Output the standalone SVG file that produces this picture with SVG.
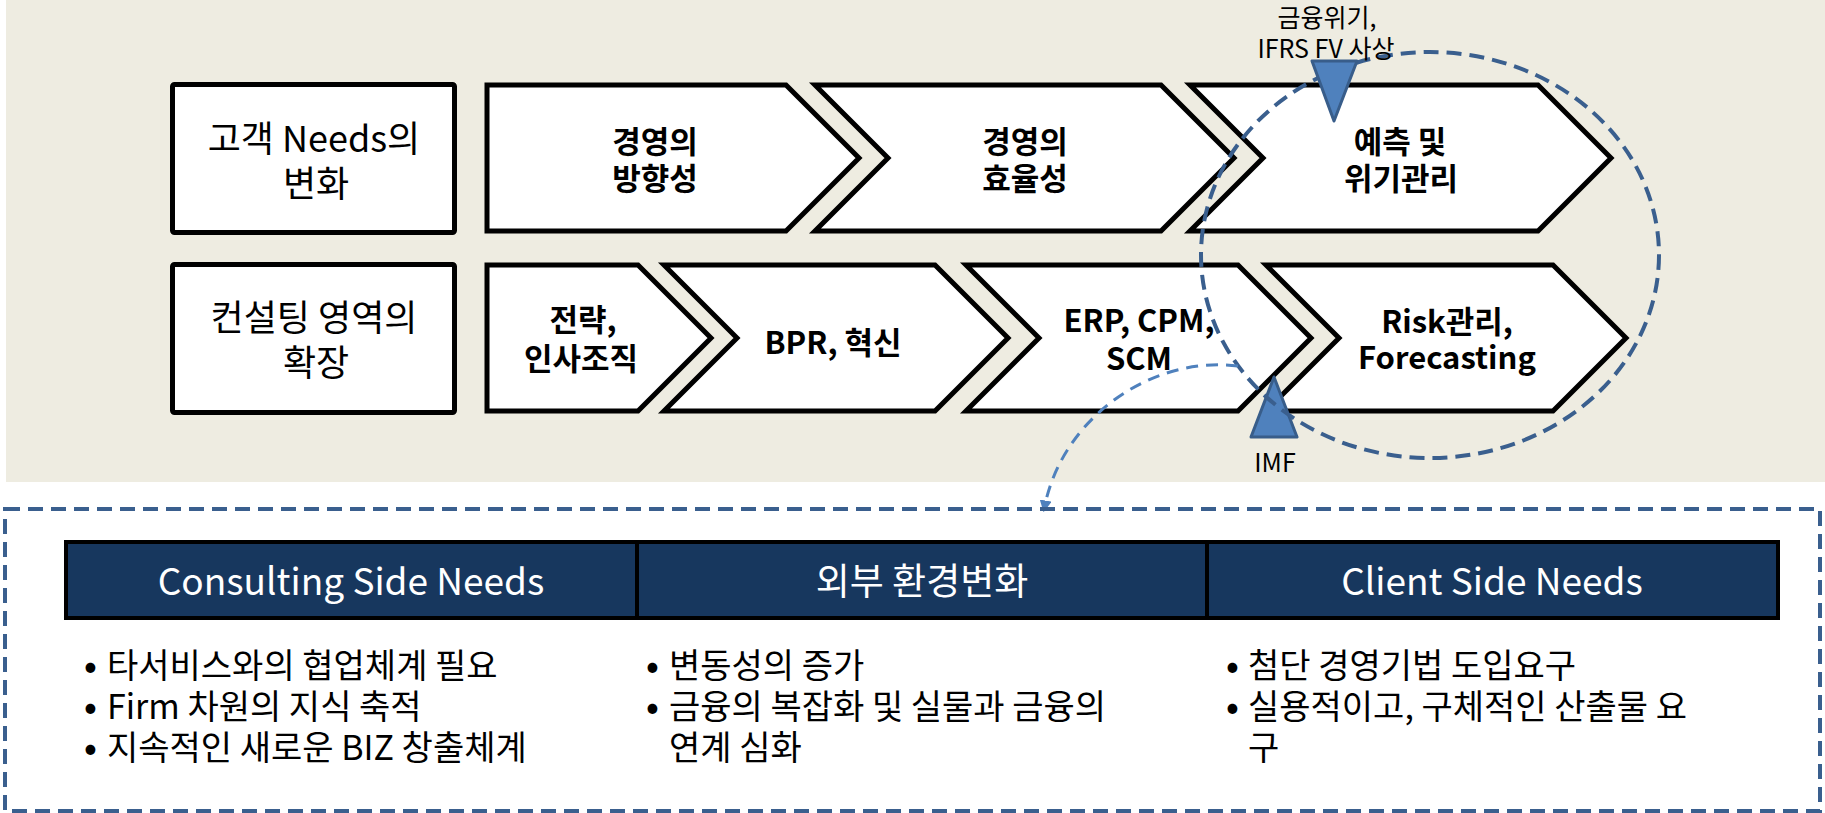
<svg xmlns="http://www.w3.org/2000/svg" width="1825" height="813" viewBox="0 0 1825 813">
  <defs>
    <style>
      .box { fill: #FFFFFF; stroke: #000000; stroke-width: 5; stroke-linejoin: miter; }
      .lbl { font-family: 'Noto Sans CJK KR', 'Noto Sans', sans-serif; fill: #000000; }
      .reg { font-size: 36px; font-weight: 400; text-anchor: middle; }
      .bold { font-size: 31px; font-weight: 700; text-anchor: middle; }
      .note { font-size: 25px; font-weight: 400; text-anchor: middle; }
      .hdr { font-family: 'Noto Sans CJK KR', 'Noto Sans', sans-serif; font-size: 37px; fill: #FFFFFF; text-anchor: middle; }
      .cell { fill: #17375E; stroke: #000000; stroke-width: 4; }
      .item { font-family: 'Noto Sans CJK KR', 'Noto Sans', sans-serif; font-size: 34px; fill: #000000; }
      .bul { font-size: 34px; font-weight: 700; }
      .tri { fill: #4F81BD; stroke: #385D8A; stroke-width: 3; stroke-linejoin: round; }
    </style>
    <marker id="arrowLight" viewBox="0 0 10 10" refX="8" refY="5" markerWidth="4" markerHeight="4" orient="auto" markerUnits="strokeWidth">
      <path d="M0,0 L10,5 L0,10 z" fill="#4F81BD"/>
    </marker>
  </defs>

  <rect x="0" y="0" width="1825" height="813" fill="#FFFFFF"/>
  <rect id="upper-panel" x="6" y="0" width="1819" height="482" fill="#EEECE1"/>

  <!-- row labels -->
  <g id="row1-label">
    <rect class="box" x="172.5" y="84.5" width="282" height="148" rx="2"/>
    <text class="lbl reg"><tspan x="314" y="152">고객 Needs의</tspan><tspan x="316" y="197">변화</tspan></text>
  </g>
  <g id="row2-label">
    <rect class="box" x="172.5" y="264.5" width="282" height="148" rx="2"/>
    <text class="lbl reg"><tspan x="314" y="331">컨설팅 영역의</tspan><tspan x="316" y="376">확장</tspan></text>
  </g>

  <!-- top row chevrons -->
  <g id="chev-direction">
    <polygon class="box" points="487,85 786,85 859,158 786,231 487,231"/>
    <text class="lbl bold"><tspan x="655" y="153">경영의</tspan><tspan x="655" y="190">방향성</tspan></text>
  </g>
  <g id="chev-efficiency">
    <polygon class="box" points="815,85 1161,85 1234,158 1161,231 815,231 888,158"/>
    <text class="lbl bold"><tspan x="1025" y="153">경영의</tspan><tspan x="1025" y="190">효율성</tspan></text>
  </g>
  <g id="chev-forecast">
    <polygon class="box" points="1190,85 1538,85 1611,158 1538,231 1190,231 1263,158"/>
    <text class="lbl bold"><tspan x="1400" y="153">예측 및</tspan><tspan x="1401" y="190">위기관리</tspan></text>
  </g>

  <!-- bottom row chevrons -->
  <g id="chev-strategy">
    <polygon class="box" points="487,265 638,265 711,338 638,411 487,411"/>
    <text class="lbl bold"><tspan x="583" y="331">전략,</tspan><tspan x="581" y="370">인사조직</tspan></text>
  </g>
  <g id="chev-bpr">
    <polygon class="box" points="664,265 935,265 1008,338 935,411 664,411 737,338"/>
    <text class="lbl bold" x="833" y="354">BPR, 혁신</text>
  </g>
  <g id="chev-erp">
    <polygon class="box" points="966,265 1238,265 1311,338 1238,411 966,411 1039,338"/>
    <text class="lbl bold"><tspan x="1139" y="332">ERP, CPM,</tspan><tspan x="1139" y="370">SCM</tspan></text>
  </g>
  <g id="chev-risk">
    <polygon class="box" points="1266,265 1553,265 1626,338 1553,411 1266,411 1339,338"/>
    <text class="lbl bold"><tspan x="1447" y="333">Risk관리,</tspan><tspan x="1447" y="369">Forecasting</tspan></text>
  </g>

  <!-- event marker: IMF -->
  <g id="event-imf">
    <polygon class="tri" points="1274,377 1297,437 1251,437"/>
    <text class="lbl note" x="1275" y="472">IMF</text>
  </g>

  <!-- connectors -->
  <g id="connectors">
    <ellipse cx="1430" cy="255" rx="229" ry="203" fill="none" stroke="#3A5F8E" stroke-width="4" stroke-dasharray="15 8"/>
    <path d="M1238,366 C1150,355 1060,420 1044,510" fill="none" stroke="#4F81BD" stroke-width="3" stroke-dasharray="12 8" marker-end="url(#arrowLight)"/>
  </g>

  <!-- event marker: financial crisis -->
  <g id="event-crisis">
    <polygon class="tri" points="1312,61 1357,61 1334,121"/>
    <text class="lbl note"><tspan x="1327" y="27">금융위기,</tspan><tspan x="1326" y="58">IFRS FV 사상</tspan></text>
  </g>

  <!-- lower panel -->
  <g id="lower-panel">
    <rect x="5" y="509" width="1815" height="302" fill="none" stroke="#3A5F8E" stroke-width="4" stroke-dasharray="15 8"/>
  </g>

  <g id="col-consulting">
    <rect class="cell" x="66" y="542" width="571" height="76"/>
    <text class="hdr" x="351" y="595">Consulting Side Needs</text>
    <text class="item">
      <tspan class="bul" x="84" y="678">•</tspan><tspan x="107" y="678">타서비스와의 협업체계 필요</tspan>
      <tspan class="bul" x="84" y="719">•</tspan><tspan x="107" y="719">Firm 차원의 지식 축적</tspan>
      <tspan class="bul" x="84" y="760">•</tspan><tspan x="107" y="760">지속적인 새로운 BIZ 창출체계</tspan>
    </text>
  </g>
  <g id="col-environment">
    <rect class="cell" x="637" y="542" width="570" height="76"/>
    <text class="hdr" x="922" y="595">외부 환경변화</text>
    <text class="item">
      <tspan class="bul" x="646" y="678">•</tspan><tspan x="669" y="678">변동성의 증가</tspan>
      <tspan class="bul" x="646" y="719">•</tspan><tspan x="669" y="719">금융의 복잡화 및 실물과 금융의</tspan>
      <tspan x="669" y="760">연계 심화</tspan>
    </text>
  </g>
  <g id="col-client">
    <rect class="cell" x="1207" y="542" width="571" height="76"/>
    <text class="hdr" x="1492" y="595">Client Side Needs</text>
    <text class="item">
      <tspan class="bul" x="1226" y="678">•</tspan><tspan x="1248" y="678">첨단 경영기법 도입요구</tspan>
      <tspan class="bul" x="1226" y="719">•</tspan><tspan x="1248" y="719">실용적이고, 구체적인 산출물 요</tspan>
      <tspan x="1248" y="760">구</tspan>
    </text>
  </g>
</svg>
